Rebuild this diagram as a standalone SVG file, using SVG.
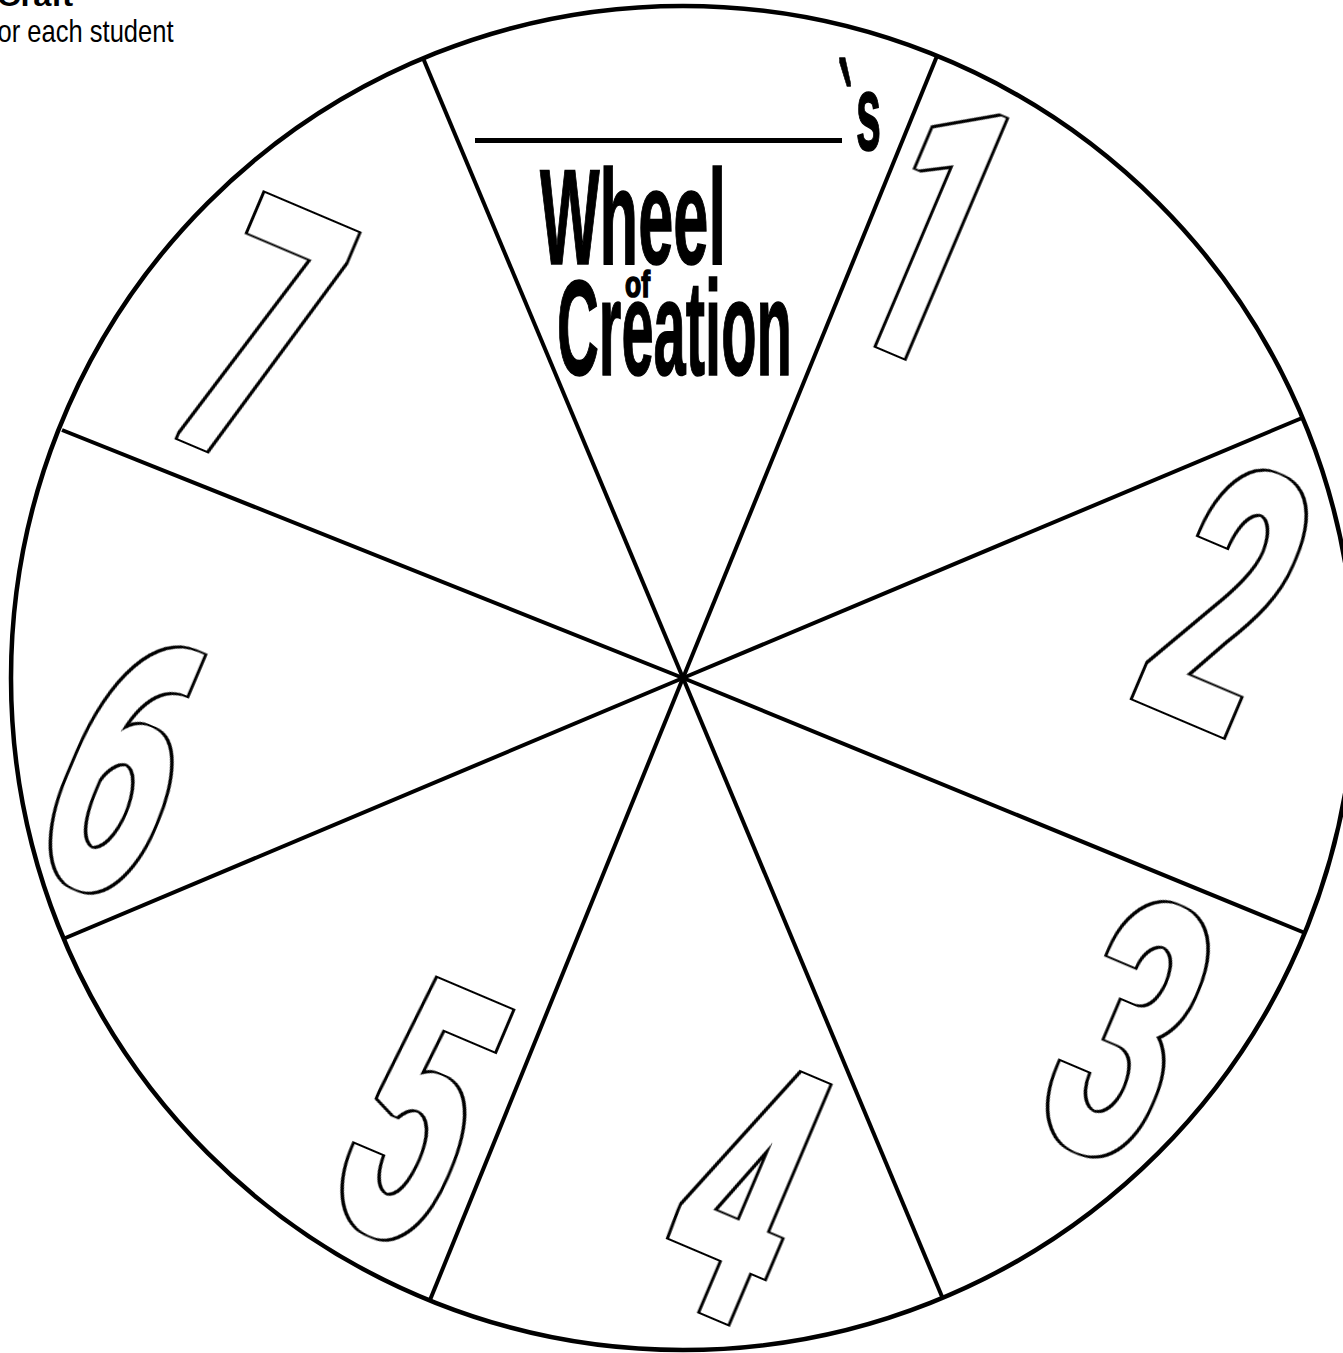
<svg xmlns="http://www.w3.org/2000/svg" width="1343" height="1353" viewBox="0 0 1343 1353">
  <defs>
    <filter id="outline" x="-30%" y="-20%" width="160%" height="140%" color-interpolation-filters="sRGB">
      <feMorphology in="SourceAlpha" operator="dilate" radius="6.4 3.5" result="outer"/>
      <feMorphology in="SourceAlpha" operator="dilate" radius="2.7 1.5" result="inner"/>
      <feFlood flood-color="#000" result="black"/>
      <feComposite in="black" in2="outer" operator="in" result="blackOuter"/>
      <feFlood flood-color="#fff" result="white"/>
      <feComposite in="white" in2="inner" operator="in" result="whiteInner"/>
      <feMerge>
        <feMergeNode in="blackOuter"/>
        <feMergeNode in="whiteInner"/>
      </feMerge>
    </filter>
  </defs>
  <style>
    .spoke { stroke: #000; stroke-width: 4; stroke-linecap: butt; }
    .digit { font-family: Roboto, "Liberation Sans", Arial, sans-serif; font-weight: bold; font-size: 360px; fill: #000; text-anchor: middle; filter: url(#outline); }
    .title { font-family: "Liberation Sans", Arial, sans-serif; font-weight: bold; fill: #000; stroke: #000; stroke-width: 1.6; }
    .hdr { font-family: "Liberation Sans", Arial, sans-serif; fill: #000; }
  </style>
  <rect width="1343" height="1353" fill="#fff"/>

  <g id="header">
    <text class="hdr" x="-3" y="6" font-size="30" font-weight="bold" textLength="76" lengthAdjust="spacingAndGlyphs">Craft</text>
    <text class="hdr" x="-9.5" y="42" font-size="32" textLength="183" lengthAdjust="spacingAndGlyphs" fill="#222">for each student</text>
  </g>

  <g id="wheel-rim">
    <circle cx="683" cy="678" r="672" fill="#fff" stroke="#000" stroke-width="4.5"/>
  </g>

  <g id="connectors">
    <line class="spoke" x1="683" y1="678" x2="423" y2="58"/>
    <line class="spoke" x1="683" y1="678" x2="937" y2="56"/>
    <line class="spoke" x1="683" y1="678" x2="1302" y2="418"/>
    <line class="spoke" x1="683" y1="678" x2="1305" y2="933"/>
    <line class="spoke" x1="683" y1="678" x2="943" y2="1299"/>
    <line class="spoke" x1="683" y1="678" x2="430" y2="1300"/>
    <line class="spoke" x1="683" y1="678" x2="63" y2="939"/>
    <line class="spoke" x1="683" y1="678" x2="62" y2="430"/>
  </g>

  <g id="title">
    <rect x="475" y="138" width="367" height="5" fill="#000"/>
    <text class="title" x="838" y="190" font-size="180" textLength="15" lengthAdjust="spacingAndGlyphs">`</text>
    <text class="title" x="856" y="150" font-size="108" textLength="25" lengthAdjust="spacingAndGlyphs">s</text>
    <text class="title" x="540" y="264" font-size="135" textLength="186" lengthAdjust="spacingAndGlyphs">Wheel</text>
    <text class="title" x="625" y="297" font-size="36" textLength="25" lengthAdjust="spacingAndGlyphs">of</text>
    <text class="title" x="557" y="375" font-size="135" textLength="235" lengthAdjust="spacingAndGlyphs">Creation</text>
  </g>

  <g id="digit-1" transform="translate(935 230) rotate(23) scale(0.55 1)">
    <text class="digit" x="0" y="128">1</text>
  </g>
  <g id="digit-2" transform="translate(1228 598) rotate(23) scale(0.55 1)">
    <text class="digit" x="0" y="128">2</text>
  </g>
  <g id="digit-3" transform="translate(1130 1030) rotate(23) scale(0.55 1)">
    <text class="digit" x="0" y="128">3</text>
  </g>
  <g id="digit-4" transform="translate(745 1190) rotate(23) scale(0.55 1)">
    <text class="digit" x="0" y="128">4</text>
  </g>
  <g id="digit-5" transform="translate(420 1112) rotate(23) scale(0.55 1)">
    <text class="digit" x="0" y="128">5</text>
  </g>
  <g id="digit-6" transform="translate(125 765) rotate(23) scale(0.55 1)">
    <text class="digit" x="0" y="128">6</text>
  </g>
  <g id="digit-7" transform="translate(262 333) rotate(23) scale(0.55 1)">
    <text class="digit" x="0" y="128">7</text>
  </g>
</svg>
